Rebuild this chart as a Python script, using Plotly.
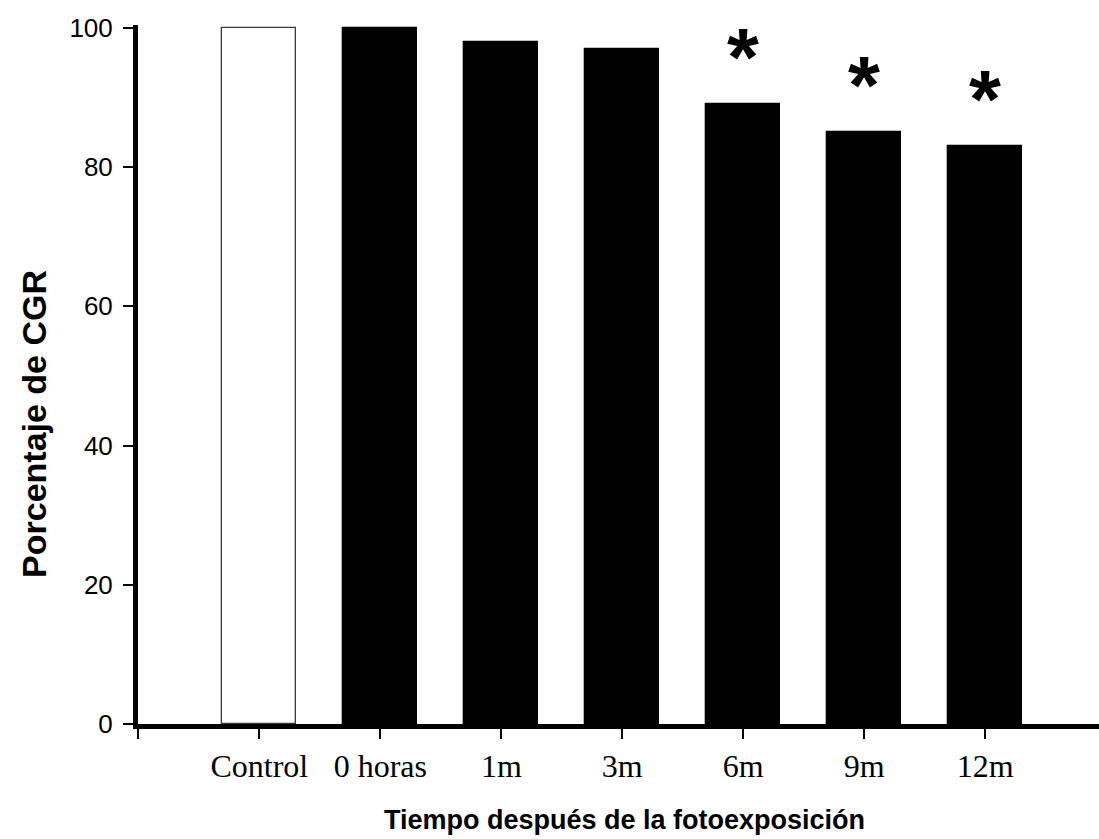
import plotly.graph_objects as go

# Percentage of RGC over time after light exposure
categories = ["Control", "0 horas", "1m", "3m", "6m", "9m", "12m"]
values = [100, 100, 98, 97, 89, 85, 83]
significant = [False, False, False, False, True, True, True]
y_ticks = [0, 20, 40, 60, 80, 100]

SANS = "Liberation Sans, Arial, sans-serif"
SERIF = "Liberation Serif, Times New Roman, serif"

positions = list(range(len(categories)))
fills = ["white" if c == "Control" else "black" for c in categories]
edges = ["#3a3a3a" if c == "Control" else "black" for c in categories]

fig = go.Figure()
fig.add_trace(go.Bar(
    x=positions,
    y=values,
    width=0.61,
    marker=dict(color=fills, line=dict(color=edges, width=1.3)),
    cliponaxis=False,
    hoverinfo="skip",
))

# significance markers above the bars
for pos, val, sig in zip(positions, values, significant):
    if sig:
        fig.add_annotation(
            x=pos, y=val, xref="x", yref="y",
            text="<b>*</b>", showarrow=False,
            xanchor="center", yanchor="bottom", yshift=0,
            font=dict(family=SANS, size=82, color="black"),
        )

# axis titles
fig.add_annotation(
    x=-0.109, y=0.4296, xref="paper", yref="paper",
    text="<b>Porcentaje de CGR</b>", textangle=-90, showarrow=False,
    xanchor="center", yanchor="middle",
    font=dict(family=SANS, size=34, color="black"),
)
fig.add_annotation(
    x=0.5063, y=-0.1379, xref="paper", yref="paper",
    text="<b>Tiempo después de la fotoexposición</b>", showarrow=False,
    xanchor="center", yanchor="middle",
    font=dict(family=SANS, size=27, color="black"),
)

fig.update_layout(
    width=1099, height=839,
    margin=dict(l=138, r=0, t=25, b=115),
    paper_bgcolor="white", plot_bgcolor="white",
    showlegend=False,
    bargap=0,
    xaxis=dict(
        range=[-1.003, 6.94],
        tickmode="array",
        tickvals=[-1] + positions,
        ticktext=[""] + categories,
        ticks="outside", ticklen=10, tickwidth=2, tickcolor="black",
        showline=True, linewidth=5, linecolor="black",
        showgrid=False, zeroline=False,
        tickfont=dict(family=SERIF, size=32, color="black"),
    ),
    yaxis=dict(
        range=[0, 100.4],
        tickmode="array",
        tickvals=y_ticks,
        ticks="outside", ticklen=10, tickwidth=2, tickcolor="black",
        showline=True, linewidth=5, linecolor="black",
        showgrid=False, zeroline=False,
        tickfont=dict(family=SANS, size=26, color="black"),
        ticklabelstandoff=5,
    ),
)

fig.write_html("out.html")
